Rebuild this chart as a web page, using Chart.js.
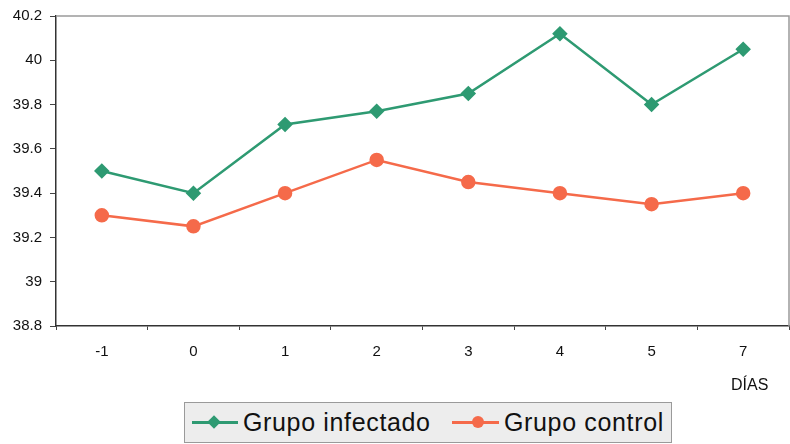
<!DOCTYPE html>
<html>
<head>
<meta charset="utf-8">
<script src="https://cdn.jsdelivr.net/npm/chart.js@4"></script>
<style>
  html,body{margin:0;padding:0;background:#fff;}
  #wrap{position:relative;width:790px;height:444px;}
  #c{position:absolute;left:0;top:0;}
  #dias{position:absolute;left:731px;top:376px;font:16px "Liberation Sans",Arial,sans-serif;color:#111;}
  #legend{position:absolute;left:184px;top:402px;width:488px;height:41px;box-sizing:border-box;background:#ededed;border:1.5px solid #9a9a9a;
    font:25px "Liberation Sans",Arial,sans-serif;letter-spacing:0.65px;color:#111;}
  .ln{position:absolute;top:18px;height:3px;}
  .mk{position:absolute;width:12px;height:12px;top:13px;}
  .tx{position:absolute;top:5px;white-space:nowrap;}
</style>
</head>
<body>
<div id="wrap">
  <canvas id="c" width="790" height="444"></canvas>
  <div id="dias">DÍAS</div>
  <div id="legend">
    <div class="ln" style="left:7px;width:46px;background:#2e9a72"></div>
    <div class="mk" style="left:23px;background:#2e9a72;transform:rotate(45deg) scale(0.8);"></div>
    <span class="tx" style="left:58px">Grupo infectado</span>
    <div class="ln" style="left:267px;width:47px;background:#f56a4a"></div>
    <div class="mk" style="left:287px;background:#f56a4a;border-radius:50%;"></div>
    <span class="tx" style="left:319px">Grupo control</span>
  </div>
</div>
<script>
const categories = ["-1","0","1","2","3","4","5","7"];
const infectado = [39.5, 39.4, 39.71, 39.77, 39.85, 40.12, 39.8, 40.05];
const control = [39.3, 39.25, 39.4, 39.55, 39.45, 39.4, 39.35, 39.4];
const yTicks = [38.8, 39, 39.2, 39.4, 39.6, 39.8, 40, 40.2];

const frame = {
  id:'frame',
  beforeDatasetsDraw(chart){
    const a = chart.chartArea, ctx = chart.ctx;
    ctx.save();
    ctx.strokeStyle = '#9a9a9a';
    ctx.lineWidth = 1.5;
    ctx.beginPath();
    ctx.moveTo(a.left, a.top);
    ctx.lineTo(a.right, a.top);
    ctx.lineTo(a.right, a.bottom);
    ctx.stroke();
    ctx.restore();
  }
};

new Chart(document.getElementById('c'), {
  type:'line',
  data:{
    labels: categories,
    datasets:[
      {label:'Grupo infectado', data: infectado, borderColor:'#2e9a72', backgroundColor:'#2e9a72',
       borderWidth:2.5, pointStyle:'rectRot', pointRadius:6, pointHoverRadius:6, tension:0, clip:false},
      {label:'Grupo control', data: control, borderColor:'#f56a4a', backgroundColor:'#f56a4a',
       borderWidth:2.5, pointStyle:'circle', pointRadius:6, pointHoverRadius:6, tension:0, clip:false}
    ]
  },
  options:{
    responsive:false,
    animation:false,
    layout:{autoPadding:false, padding:{left:0,right:1,top:16,bottom:78}},
    plugins:{legend:{display:false}, tooltip:{enabled:false}},
    scales:{
      x:{
        offset:true,
        grid:{offset:true, drawOnChartArea:false, tickLength:4, color:'#444', lineWidth:1},
        border:{color:'#333', width:1.5},
        ticks:{font:{family:'"Liberation Sans", Arial, sans-serif', size:15}, color:'#111', padding:13},
        afterFit(s){ s.height = 40; s.paddingLeft = 0; s.paddingRight = 0; }
      },
      y:{
        min:38.8, max:40.2,
        afterBuildTicks(s){ s.ticks = yTicks.map(v=>({value:v})); },
        grid:{drawOnChartArea:false, tickLength:6, color:'#444', lineWidth:1},
        border:{color:'#333', width:1.5},
        ticks:{font:{family:'"Liberation Sans", Arial, sans-serif', size:15}, color:'#111', padding:8,
          callback(v){ return String(Math.round(v*10)/10); }},
        afterFit(s){ s.width = 56; s.paddingTop = 0; s.paddingBottom = 0; }
      }
    }
  },
  plugins:[frame]
});
</script>
</body>
</html>
